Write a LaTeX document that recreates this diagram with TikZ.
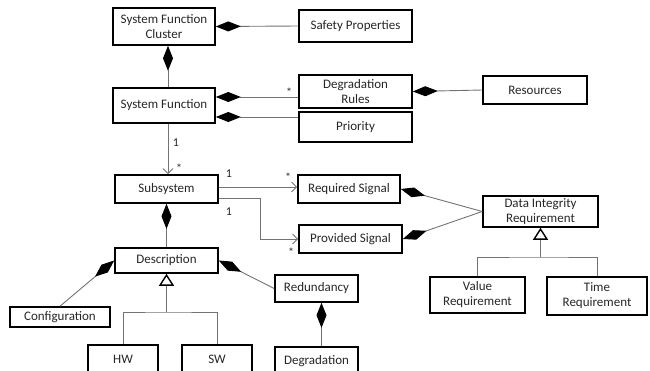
\documentclass[tikz,border=0pt]{standalone}
\usepackage{fontspec}
\setmainfont{Carlito}
\usetikzlibrary{arrows.meta}
\begin{document}
\begin{tikzpicture}[x=1pt,y=-1pt,
  box/.style={draw=black,line width=1.6pt,inner sep=0pt,align=center,font=\fontsize{13}{15}\selectfont,text=black!85},
  conn/.style={draw=black!55,line width=0.9pt},
  comp/.style={conn,{Diamond[length=25pt,width=10pt,color=black]}-},
  assoc/.style={conn,-{Straight Barb[length=5pt,width=10pt]}},
  gen/.style={conn,-{Triangle[open,length=12pt,width=15pt,fill=white,color=black,line width=1.4pt]}},
  mult/.style={font=\fontsize{12}{12}\selectfont,inner sep=0pt,text=black!85}]
\useasboundingbox (0,0) rectangle (650,370);

\node[box,minimum width=102pt,minimum height=37pt] (sfc) at (164,26.5) {System Function\\Cluster};
\node[box,minimum width=113pt,minimum height=32pt] (safety) at (355.5,26) {Safety Properties};
\node[box,minimum width=102pt,minimum height=35pt] (sf) at (164,105.5) {System Function};
\node[box,minimum width=113pt,minimum height=33pt] (dr) at (355.5,91.5) {Degradation\\Rules};
\node[box,minimum width=113pt,minimum height=30pt] (prio) at (355.5,127) {Priority};
\node[box,minimum width=104pt,minimum height=28pt] (res) at (535,90) {Resources};
\node[box,minimum width=103pt,minimum height=28pt] (sub) at (166.5,189) {Subsystem};
\node[box,minimum width=102pt,minimum height=28pt] (rs) at (349,189) {Required Signal};
\node[box,minimum width=103pt,minimum height=28pt] (ps) at (350.5,239) {Provided Signal};
\node[box,minimum width=115pt,minimum height=31pt] (dir) at (540.5,211.5) {Data Integrity\\Requirement};
\node[box,minimum width=95pt,minimum height=36pt] (val) at (477.5,295) {Value\\Requirement};
\node[box,minimum width=100pt,minimum height=38pt] (time) at (597,296) {Time\\Requirement};
\node[box,minimum width=103pt,minimum height=25pt] (desc) at (166.5,260.5) {Description};
\node[box,minimum width=100pt,minimum height=20pt] (config) at (60,317) {Configuration};
\node[box,minimum width=83pt,minimum height=27pt] (red) at (316.5,288.5) {Redundancy};
\node[box,minimum width=70pt,minimum height=28pt] (hw) at (123,359) {HW};
\node[box,minimum width=70pt,minimum height=28pt] (sw) at (217,359) {SW};
\node[box,minimum width=83pt,minimum height=28pt] (deg) at (316.5,361) {Degradation};

% compositions
\draw[comp] (sfc.east) -- (safety.west);
\draw[comp] ([xshift=4pt]sfc.south) -- ([xshift=4pt]sf.north);
\draw[comp] ([yshift=8.5pt]sf.east) -- ([yshift=8.5pt]sf.east -| dr.west);
\draw[comp] ([yshift=-11.5pt]sf.east) -- ([yshift=-11.5pt]sf.east -| prio.west);
\draw[comp] (dr.east) -- (res.west);
\draw[comp] (rs.east) -- (dir.west);
\draw[comp] (ps.east) -- (dir.west);
\draw[comp] (sub.south) -- (desc.north);
\draw[comp] (desc.west) -- (config.north);
\draw[comp] (desc.east) -- (red.west);
\draw[comp] ([xshift=5pt]red.south) -- ([xshift=5pt]deg.north);

% associations
\draw[assoc] ([xshift=4pt]sf.south) -- ([xshift=1.5pt]sub.north);
\draw[assoc] ([yshift=2pt]sub.east) -- ([yshift=2pt]sub.east -| rs.west);
\draw[assoc] ([yshift=-9pt]sub.east) -- ++(42,0) |- (ps.west);

% generalizations
\coordinate (j1) at (166.5,312);
\draw[conn] (hw.north) |- (j1) -| (sw.north);
\draw[gen] (j1) -- (desc.south);
\coordinate (j2) at (540.5,257);
\draw[conn] (val.north) |- (j2) -| (time.north);
\draw[gen] (j2) -- (dir.south);

% multiplicities
\node[mult] (m1) at (176,143) {1};
\node[mult] (m2) at (179,168) {*};
\node[mult] (m3) at (229,174) {1};
\node[mult] (m4) at (288,177) {*};
\node[mult] (m5) at (229,212) {1};
\node[mult] (m6) at (291,252) {*};
\node[mult] (m7) at (289,92) {*};
\end{tikzpicture}
\end{document}
